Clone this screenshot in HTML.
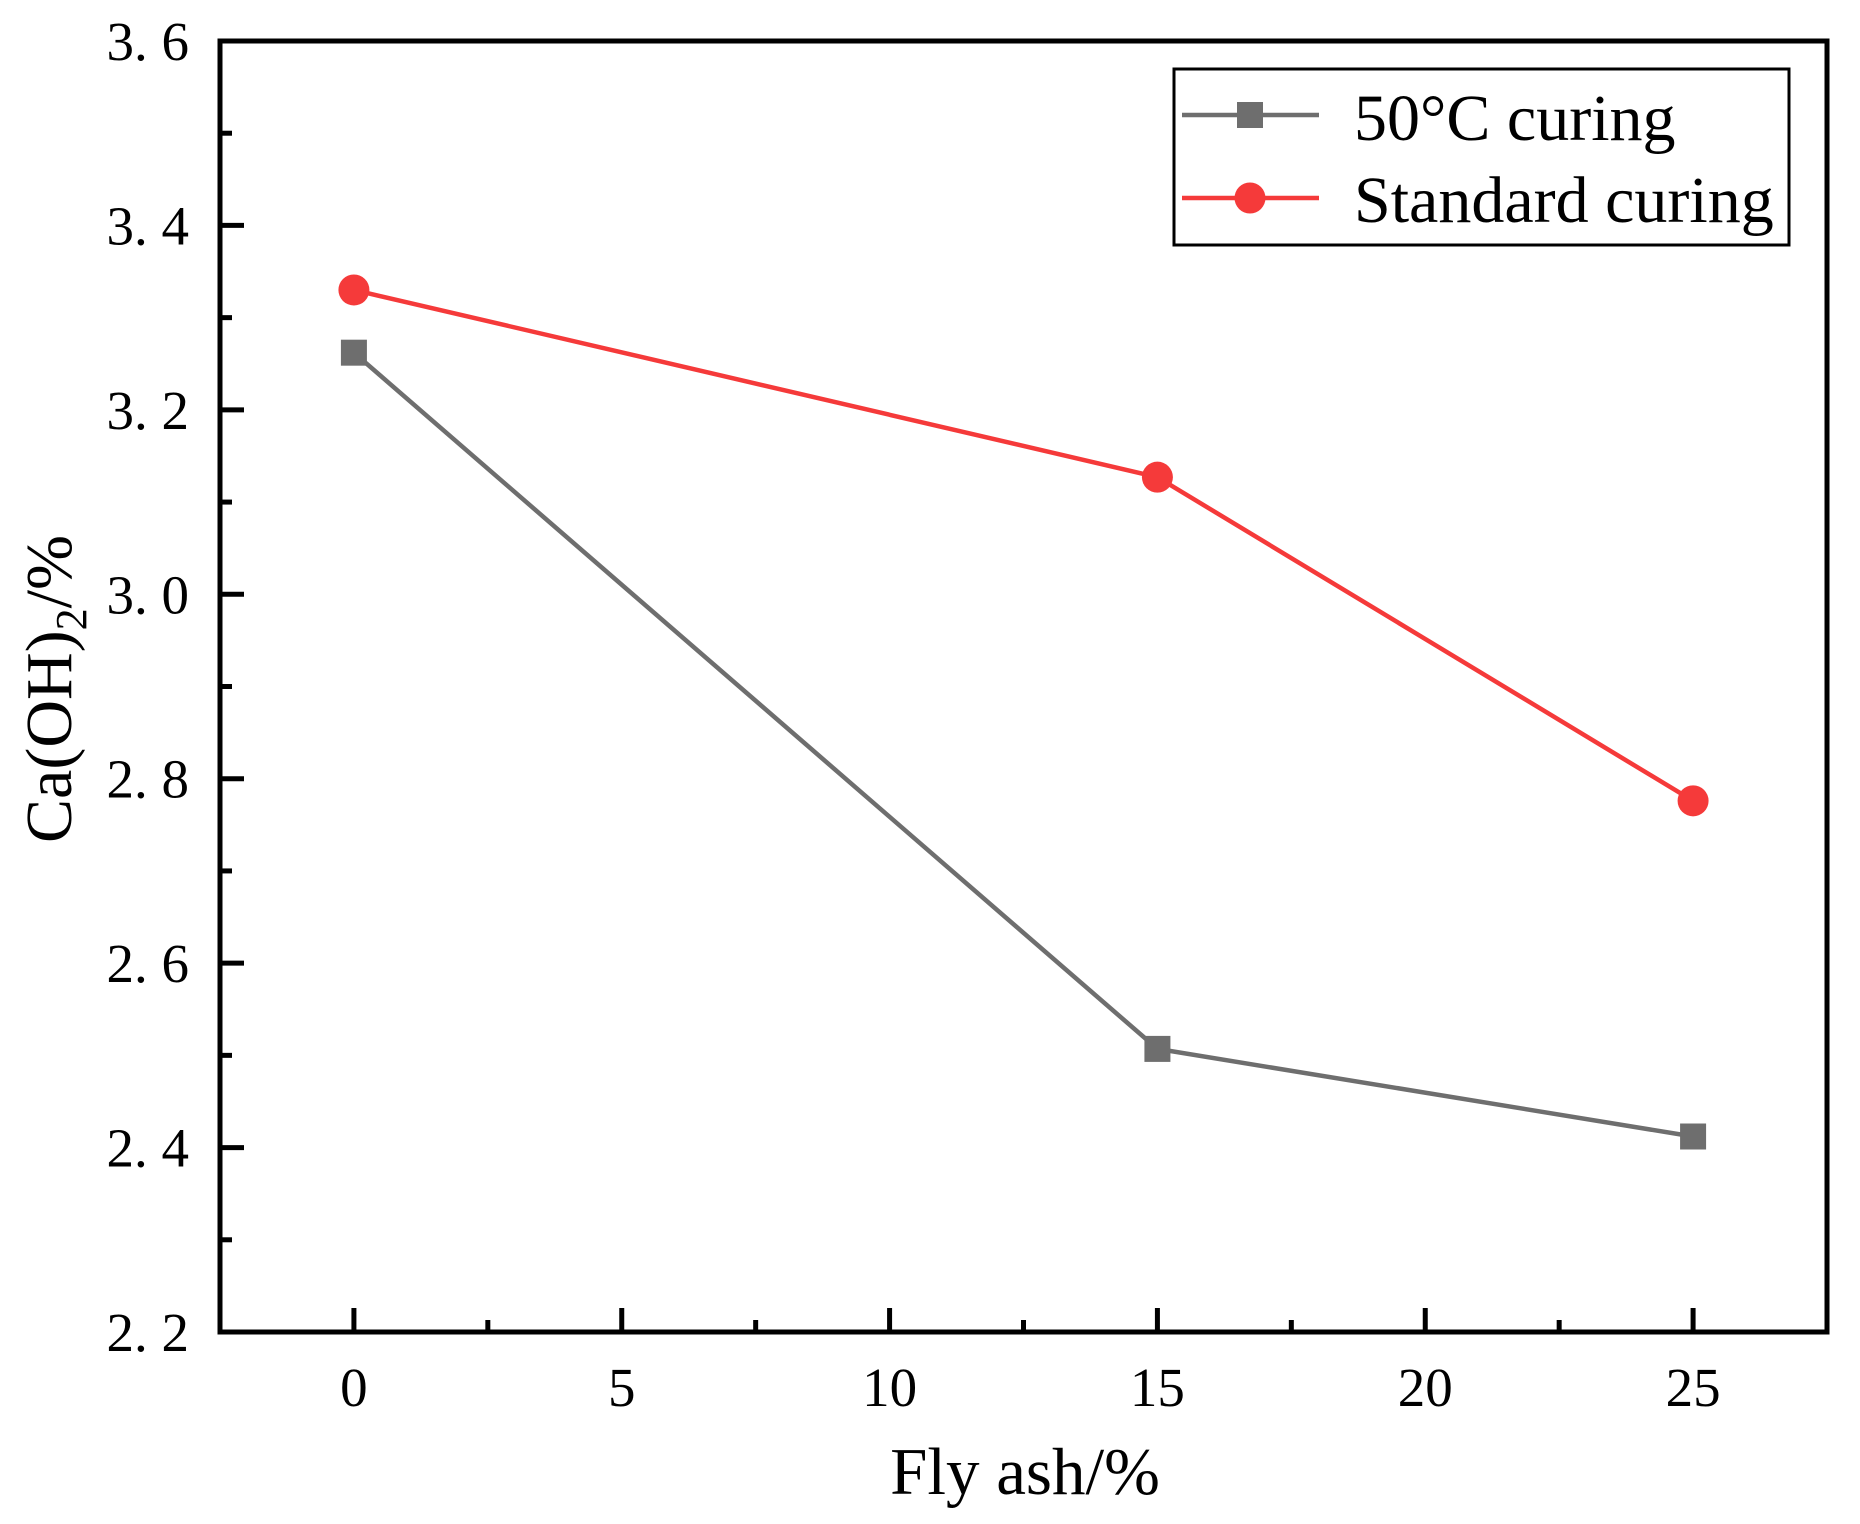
<!DOCTYPE html>
<html><head><meta charset="utf-8"><style>
body{margin:0;background:#fff}
svg{display:block;font-family:"Liberation Serif",serif}
</style></head><body>
<svg id="chart" width="1860" height="1524" viewBox="0 0 1860 1524" xmlns="http://www.w3.org/2000/svg">
<g id="series"></g>
<g id="axes"></g>
<text x="1025" y="1494" font-size="67" text-anchor="middle">Fly ash/%</text>
<text transform="translate(71,689) rotate(-90)" font-size="66" text-anchor="middle">Ca(OH)<tspan font-size="44" dy="15">2</tspan><tspan dy="-15">/%</tspan></text>
<g>
<rect x="1174" y="69" width="615" height="176" fill="#fff" stroke="#000" stroke-width="3"/>
<g>
<line x1="1182" y1="115" x2="1319" y2="115" stroke="#6e6e6e" stroke-width="4.5"/>
<rect x="1237" y="102" width="26" height="26" fill="#6e6e6e"/>
<text x="1354" y="140" font-size="66">50°C curing</text></g>
<g>
<line x1="1182" y1="198" x2="1319" y2="198" stroke="#f53a3a" stroke-width="4.5"/>
<circle cx="1250" cy="198" r="15.5" fill="#f53a3a"/>
<text x="1354" y="222" font-size="66">Standard curing</text></g>
</g>
</svg>
<script>
const categories=[0,15,25];
const series50=[3.262,2.507,2.412];
const seriesStd=[3.33,3.127,2.776];
const xTicks=[0,5,10,15,20,25];
const yTicks=[2.2,2.4,2.6,2.8,3.0,3.2,3.4,3.6];
const yTickLabels=["2. 2","2. 4","2. 6","2. 8","3. 0","3. 2","3. 4","3. 6"];
const L=220,R=1827,T=41,B=1332,xmin=-2.5,xmax=27.5,ymin=2.2,ymax=3.6;
const xs=v=>L+(v-xmin)/(xmax-xmin)*(R-L);
const ys=v=>B-(v-ymin)/(ymax-ymin)*(B-T);
const NS="http://www.w3.org/2000/svg";
function mk(tag,attrs,parent){const e=document.createElementNS(NS,tag);for(const k in attrs)e.setAttribute(k,attrs[k]);parent.appendChild(e);return e;}
const ax=document.getElementById('axes');
let f=mk('rect',{x:L,y:T,width:R-L,height:B-T,fill:'none',stroke:'#000','stroke-width':5},ax);


xTicks.forEach(v=>{
 let t=mk('line',{x1:xs(v),x2:xs(v),y1:B,y2:B-24,stroke:'#000','stroke-width':5},ax);
 
 
 let m=mk('line',{x1:xs(v+2.5),x2:xs(v+2.5),y1:B,y2:B-12,stroke:'#000','stroke-width':5},ax);
 
 
 let l=mk('text',{x:xs(v),y:1406,'font-size':55,'text-anchor':'middle'},ax);l.textContent=v;
 
 
});
yTicks.forEach((v,i)=>{
 let t=mk('line',{x1:L,x2:L+24,y1:ys(v),y2:ys(v),stroke:'#000','stroke-width':5},ax);
 
 
 if(v<3.59){let m=mk('line',{x1:L,x2:L+12,y1:ys(v+0.1),y2:ys(v+0.1),stroke:'#000','stroke-width':5},ax);
 
 }
 let l=mk('text',{x:189,y:ys(v)+19,'font-size':55,'text-anchor':'end'},ax);l.textContent=yTickLabels[i];
 
 
});
const sg=document.getElementById('series');
function draw(vals,color,shape,name){
 const g=mk('g',{},sg);
 
 
 let p=mk('polyline',{points:categories.map((c,i)=>xs(c)+','+ys(vals[i])).join(' '),fill:'none',stroke:color,'stroke-width':4.5},g);
 
 
 categories.forEach((c,i)=>{
  let m=shape==='sq'?mk('rect',{x:xs(c)-13,y:ys(vals[i])-13,width:26,height:26,fill:color},g):mk('circle',{cx:xs(c),cy:ys(vals[i]),r:15.5,fill:color},g);
  
  
 });
}
draw(series50,'#6e6e6e','sq','series-50c');
draw(seriesStd,'#f53a3a','ci','series-standard');
</script>
</body></html>
